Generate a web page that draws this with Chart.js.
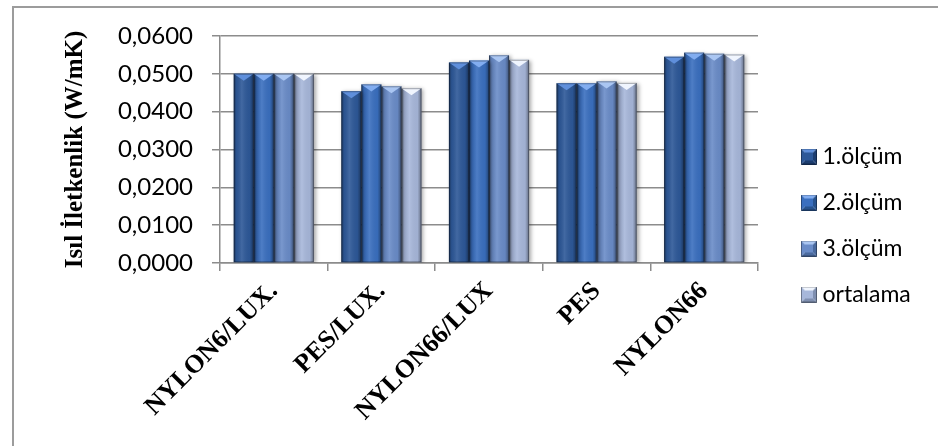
<!DOCTYPE html>
<html>
<head>
<meta charset="utf-8">
<script src="https://cdn.jsdelivr.net/npm/chart.js@4.4.0/dist/chart.umd.min.js"></script>
<style>
  html, body { margin: 0; padding: 0; background: #fff; }
  #wrap { position: relative; width: 945px; height: 446px; overflow: hidden; background: #fff; }
  #frame { position: absolute; left: 12px; top: 6px; width: 926px; height: 470px;
           border-left: 2px solid #9c9c9c; border-top: 2px solid #9c9c9c; box-sizing: border-box; }
  canvas { position: absolute; left: 0; top: 0; }
</style>
</head>
<body>
<div id="wrap">
  <div id="frame"></div>
  <canvas id="c" width="945" height="446"></canvas>
</div>
<script>
// Thermal conductivity (W/mK) of the fabric samples, three measurements and their mean
const categories = ['NYLON6/LUX.', 'PES/LUX.', 'NYLON66/LUX', 'PES', 'NYLON66'];
const olcum1   = [0.0500, 0.0454, 0.0530, 0.0475, 0.0545];
const olcum2   = [0.0500, 0.0472, 0.0535, 0.0475, 0.0556];
const olcum3   = [0.0500, 0.0467, 0.0549, 0.0480, 0.0553];
const ortalama = [0.0500, 0.0462, 0.0537, 0.0476, 0.0551];
const seriesNames = ['1.ölçüm', '2.ölçüm', '3.ölçüm', 'ortalama'];
const yTickValues = [0, 0.01, 0.02, 0.03, 0.04, 0.05, 0.06];
const yTitle = 'Isıl İletkenlik (W/mK)';

// fill, bevel highlight, dark edge for each series
const palette = [
  { fill: '#2d5898', light: '#5f8fdb', dark: '#1c3d70' },
  { fill: '#3a6fbf', light: '#82adf0', dark: '#27538f' },
  { fill: '#6a8cc8', light: '#aac6f2', dark: '#4a6a9f' },
  { fill: '#a7b7da', light: '#f0f5fe', dark: '#7f8fb0' }
];

function legendIcon(p) {
  const s = 16;
  const c = document.createElement('canvas');
  c.width = s; c.height = s;
  const g = c.getContext('2d');
  const tri = (pts, col) => {
    g.beginPath(); g.moveTo(pts[0][0], pts[0][1]);
    pts.slice(1).forEach(q => g.lineTo(q[0], q[1]));
    g.closePath(); g.fillStyle = col; g.fill();
  };
  const m = s / 2;
  tri([[0, 0], [s, 0], [m, m]], p.light);
  tri([[0, 0], [0, s], [m, m]], p.fill);
  tri([[s, 0], [s, s], [m, m]], p.dark);
  tri([[0, s], [s, s], [m, m]], p.dark);
  g.fillStyle = p.fill;
  g.fillRect(4, 4, s - 8, s - 8);
  g.strokeStyle = 'rgba(0,0,0,0.35)';
  g.lineWidth = 1;
  g.strokeRect(0.5, 0.5, s - 1, s - 1);
  return c;
}
const icons = palette.map(legendIcon);

// soft shadow under the bars plus a bevelled top and darker sides on every bar
const bevelBars = {
  id: 'bevelBars',
  beforeDatasetsDraw(chart) {
    const ctx = chart.ctx;
    ctx.save();
    ctx.shadowColor = 'rgba(0,0,0,0.35)';
    ctx.shadowBlur = 4;
    ctx.shadowOffsetX = 2;
    ctx.shadowOffsetY = 1;
  },
  afterDatasetsDraw(chart) {
    const ctx = chart.ctx;
    ctx.restore();
    chart.data.datasets.forEach((ds, i) => {
      const p = palette[i];
      chart.getDatasetMeta(i).data.forEach(bar => {
        const { x, y, base, width } = bar.getProps(['x', 'y', 'base', 'width'], true);
        const l = x - width / 2, r = x + width / 2, h = base - y;
        const g = ctx.createLinearGradient(l, 0, r, 0);
        g.addColorStop(0, 'rgba(0,0,0,0.40)');
        g.addColorStop(0.14, 'rgba(0,0,0,0.06)');
        g.addColorStop(0.40, 'rgba(255,255,255,0.10)');
        g.addColorStop(0.80, 'rgba(0,0,0,0.04)');
        g.addColorStop(1, 'rgba(0,0,0,0.40)');
        ctx.fillStyle = g;
        ctx.fillRect(l, y, width, h);
        const bh = Math.min(7, h / 2);
        ctx.beginPath();
        ctx.moveTo(l, y); ctx.lineTo(r, y); ctx.lineTo(x, y + bh); ctx.closePath();
        ctx.fillStyle = p.light;
        ctx.fill();
        ctx.strokeStyle = 'rgba(0,0,0,0.30)';
        ctx.lineWidth = 1;
        ctx.strokeRect(l + 0.5, y + 0.5, width - 1, h - 1);
      });
    });
  }
};

// legend column: fixed width, placed beside the plot
const LEGEND_W = 945 - 758;
const legendPlace = {
  id: 'legendPlace',
  beforeInit(chart) {
    const lg = chart.legend;
    const fit = lg.fit;
    lg.fit = function () { fit.call(this); this.width = LEGEND_W; };
  },
  afterLayout(chart) {
    const lg = chart.legend;
    lg.left = 784; lg.right = lg.left + LEGEND_W;
    lg.top = 122; lg.bottom = lg.top + 240; lg.height = 240;
  }
};

const datasets = [olcum1, olcum2, olcum3, ortalama].map((vals, i) => ({
  label: seriesNames[i],
  data: vals,
  backgroundColor: palette[i].fill,
  borderWidth: 0
}));

Chart.defaults.color = '#000';
Chart.defaults.animation = false;

new Chart(document.getElementById('c'), {
  type: 'bar',
  data: { labels: categories, datasets },
  plugins: [bevelBars, legendPlace],
  options: {
    responsive: false,
    animation: false,
    layout: { padding: { left: 0, top: 36, right: 0, bottom: 0 } },
    datasets: { bar: { barPercentage: 1, categoryPercentage: 0.745 } },
    plugins: {
      tooltip: { enabled: false },
      legend: {
        position: 'right',
        align: 'start',
        labels: {
          usePointStyle: true,
          boxWidth: 4,
          padding: 23,
          color: '#000',
          font: { family: 'Lato', size: 23 },
          generateLabels(chart) {
            const items = Chart.defaults.plugins.legend.labels.generateLabels(chart);
            items.forEach((it, i) => { it.pointStyle = icons[i]; });
            return items;
          }
        }
      }
    },
    scales: {
      y: {
        min: 0, max: 0.06,
        afterFit(s) { s.width = 220; },
        afterBuildTicks(s) { s.ticks = yTickValues.map(v => ({ value: v })); },
        ticks: {
          padding: 19,
          color: '#000',
          font: { family: 'Lato', size: 24 },
          callback: v => v.toFixed(4).replace('.', ',')
        },
        grid: { color: '#8c8c8c', lineWidth: 1.5, tickLength: 8, drawTicks: true },
        border: { color: '#8c8c8c', width: 1.5 },
        title: {
          display: true,
          text: yTitle,
          color: '#000',
          padding: { top: 61, bottom: 0 },
          font: { family: 'Liberation Serif', size: 25, weight: 'bold' }
        }
      },
      x: {
        afterFit(s) { s.height = 446 - 263; },
        ticks: {
          minRotation: 45, maxRotation: 45,
          padding: 5,
          color: '#000',
          font: { family: 'Liberation Serif', size: 26, weight: 'bold' }
        },
        grid: { offset: true, drawOnChartArea: false, drawTicks: true, tickLength: 8, color: '#8c8c8c', lineWidth: 1.5 },
        border: { color: '#8c8c8c', width: 1.5 }
      }
    }
  }
});
</script>
</body>
</html>
